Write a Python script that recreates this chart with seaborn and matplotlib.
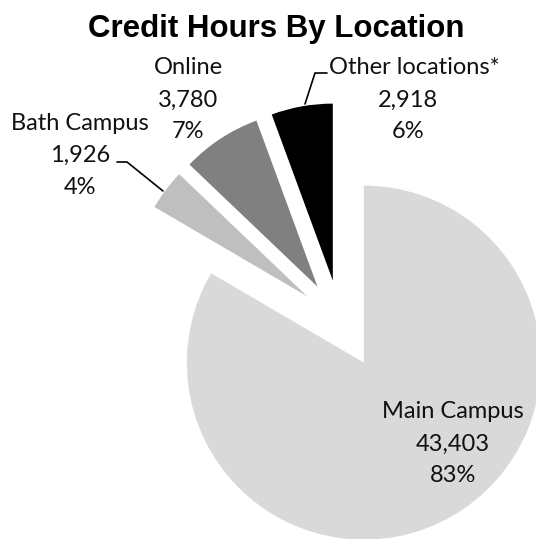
# plot.py
# Camembert des heures de credit par site (pie chart, seaborn theme)

import matplotlib
matplotlib.use('Agg')
import matplotlib.pyplot as plt
import seaborn as sns

# Donnees
LOCATIONS    = ['Main Campus', 'Bath Campus', 'Online', 'Other locations*']
CREDIT_HOURS = [43403, 1926, 3780, 2918]
COLORS       = ['#D9D9D9', '#BFBFBF', '#808080', '#000000']

W, H = 536, 539  # taille de la figure en pixels


def iy(y):
    """Coordonnee image (haut -> bas) vers coordonnee axe."""
    return H - y


# Position (centre de la premiere ligne) de chaque etiquette, en pixels image
LABEL_POS = {
    'Main Campus':      (453, 412),
    'Bath Campus':      (80, 123),
    'Online':           (188, 68),
    'Other locations*': (415, 68),
}
LINE_GAP = 32

# Traits de rappel
LEADERS = {
    'Bath Campus':      [(117, 162), (127, 162), (163, 191)],
    'Other locations*': [(305, 104), (315, 73), (327, 73)],
}

sns.set_theme(style='white')
plt.rcParams['font.family'] = ['Lato', 'DejaVu Sans']

fig = plt.figure(figsize=(W / 100, H / 100), dpi=100)
ax = fig.add_axes([0, 0, 1, 1])

ax.pie(CREDIT_HOURS, colors=COLORS, startangle=90, counterclock=False,
       radius=177, center=(340, iy(321)), explode=[48, 41, 41, 41],
       wedgeprops={'linewidth': 0})
ax.set_xlim(0, W)
ax.set_ylim(0, H)
ax.set_aspect('equal')
ax.axis('off')

total = sum(CREDIT_HOURS)
for loc, val in zip(LOCATIONS, CREDIT_HOURS):
    x, y = LABEL_POS[loc]
    lines = [loc, f'{val:,}', f'{round(val / total * 100):.0f}%']
    for i, txt in enumerate(lines):
        # la ligne "Other locations*" commence juste apres le trait de rappel
        if loc == 'Other locations*' and i == 0:
            ax.text(329, iy(y), txt, ha='left', va='center', fontsize=17, color='#111111')
            continue
        ax.text(x if loc != 'Other locations*' else 408, iy(y + i * LINE_GAP), txt,
                ha='center', va='center', fontsize=17, color='#111111')

for loc, pts in LEADERS.items():
    xs = [p[0] for p in pts]
    ys = [iy(p[1]) for p in pts]
    ax.plot(xs, ys, color='black', lw=1.2, solid_joinstyle='miter')

fig.text(276 / W, iy(37) / H, 'Credit Hours By Location', ha='center',
         va='baseline', fontsize=22.5, fontweight='bold', color='black',
         family=['Liberation Sans', 'DejaVu Sans'])

fig.savefig('out.png', dpi=100, facecolor='white')
plt.close(fig)
